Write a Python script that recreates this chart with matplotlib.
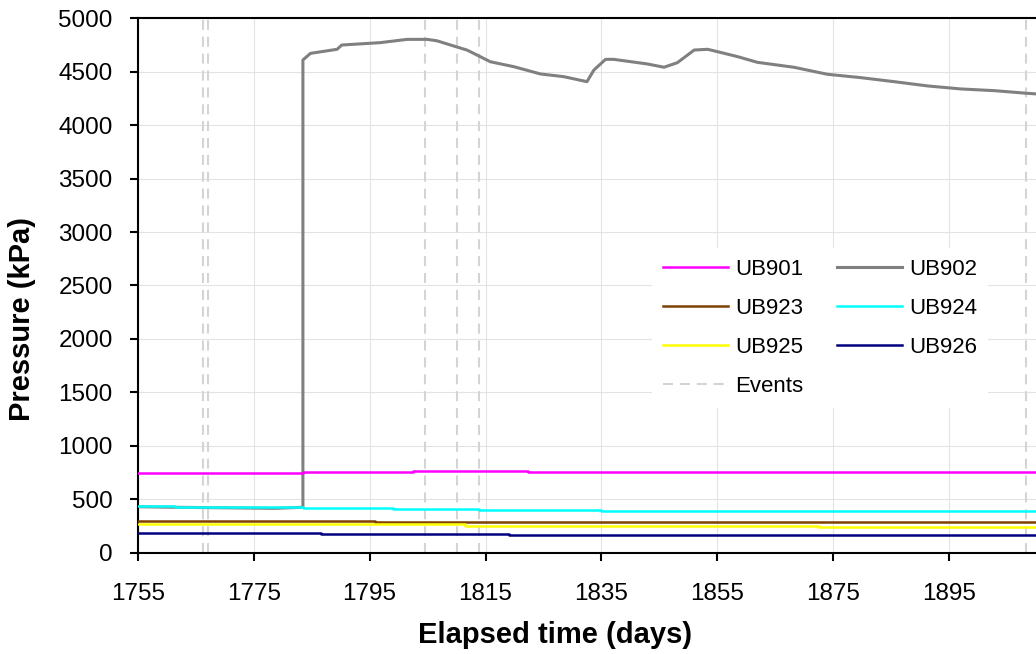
import matplotlib
matplotlib.use("Agg")
import matplotlib.pyplot as plt
from matplotlib.lines import Line2D

plt.rcParams['font.family'] = ['Liberation Sans', 'DejaVu Sans']

# ---- data ----
ub901_days = [1755, 1783.5, 1802.5, 1822.4, 1915]
ub901_vals = [743, 755, 767, 755, 755]

ub902_days = [1755, 1761.5, 1778.7, 1783.5, 1783.5, 1784.8, 1789.4, 1790.2, 1796.8,
              1801.5, 1804.9, 1806.6, 1809.5, 1811.8, 1814.1, 1815.8, 1819.9, 1824.5,
              1828.5, 1832.5, 1833.7, 1835.7, 1837.1, 1842.9, 1845.8, 1848.1, 1851.0,
              1853.3, 1855.0, 1858.5, 1861.9, 1868.2, 1874.0, 1879.7, 1885.5, 1891.3,
              1897.0, 1902.8, 1908.5, 1915]
ub902_vals = [430, 425, 415, 425, 4610, 4672, 4710, 4750, 4772,
              4803, 4803, 4790, 4741, 4703, 4641, 4594, 4547, 4479,
              4454, 4407, 4516, 4616, 4616, 4573, 4542, 4585, 4703,
              4710, 4688, 4641, 4588, 4542, 4476, 4445, 4407, 4367,
              4339, 4323, 4298, 4275]

ub923_days = [1755, 1796, 1915]
ub923_vals = [294, 290, 290]

ub924_days = [1755, 1761.5, 1783.5, 1799, 1813.8, 1835, 1915]
ub924_vals = [437, 430, 421, 409, 400, 393, 393]

ub925_days = [1755, 1811.5, 1872.4, 1915]
ub925_vals = [268, 250, 243, 243]

ub926_days = [1755, 1786.7, 1819, 1915]
ub926_vals = [181, 172, 162, 162]

event_days = [1766.3, 1767.1, 1804.5, 1810.1, 1813.9, 1908.3]

x_ticks = [1755, 1775, 1795, 1815, 1835, 1855, 1875, 1895]
y_ticks = [0, 500, 1000, 1500, 2000, 2500, 3000, 3500, 4000, 4500, 5000]

# ---- figure ----
W, H = 1036, 654
fig = plt.figure(figsize=(W / 100, H / 100), dpi=100)
left, right, top, bottom = 137.7, 1065.2, 18.3, 552.7
ax = fig.add_axes([left / W, (H - bottom) / H, (right - left) / W, (bottom - top) / H])

ax.set_xlim(1755, 1915)
ax.set_ylim(0, 5000)
ax.set_xticks(x_ticks)
ax.set_yticks(y_ticks)

ax.grid(True, color='#e3e3e3', linewidth=0.8)
ax.set_axisbelow(True)

for d in event_days:
    ax.axvline(d, color='#d4d4d4', linewidth=1.5, dashes=(4.8, 3.3), zorder=1.5)

lw = 1.8
ax.plot(ub901_days, ub901_vals, color='#ff00ff', lw=lw, drawstyle='steps-post', label='UB901', zorder=3)
ax.plot(ub902_days, ub902_vals, color='#808080', lw=2.2, label='UB902', zorder=2.5)
ax.plot(ub923_days, ub923_vals, color='#7f4000', lw=lw, drawstyle='steps-post', label='UB923', zorder=3)
ax.plot(ub924_days, ub924_vals, color='#00ffff', lw=lw, drawstyle='steps-post', label='UB924', zorder=3)
ax.plot(ub925_days, ub925_vals, color='#ffff00', lw=lw, drawstyle='steps-post', label='UB925', zorder=3)
ax.plot(ub926_days, ub926_vals, color='#000080', lw=lw, drawstyle='steps-post', label='UB926', zorder=3)

for s in ['left', 'bottom', 'top', 'right']:
    ax.spines[s].set_linewidth(1.5)
    ax.spines[s].set_color('black')

ax.tick_params(axis='both', which='major', direction='out', length=6, width=1.5,
               labelsize=17.5, colors='black')
ax.tick_params(axis='x', pad=16)
ax.tick_params(axis='y', pad=12)

ax.set_xlabel('Elapsed time (days)', fontsize=21, fontweight='bold')
ax.xaxis.set_label_coords((555 - left) / (right - left), (bottom - 635) / (bottom - top))
ax.xaxis.label.set_va('center')
ax.set_ylabel('Pressure (kPa)', fontsize=21, fontweight='bold')
ax.yaxis.set_label_coords((22.5 - left) / (right - left), (bottom - 319) / (bottom - top))
ax.yaxis.label.set_va('center')

h = {l.get_label(): l for l in ax.get_lines() if not l.get_label().startswith('_')}
ev = Line2D([], [], color='#d4d4d4', linewidth=1.5, dashes=(4.8, 3.3))
handles = [h['UB901'], h['UB923'], h['UB925'], ev, h['UB902'], h['UB924'], h['UB926']]
labels = ['UB901', 'UB923', 'UB925', 'Events', 'UB902', 'UB924', 'UB926']
leg = ax.legend(handles, labels, ncol=2, loc='upper left',
                bbox_to_anchor=(652 / W, (H - 248) / H), bbox_transform=fig.transFigure,
                fontsize=16, handlelength=2.93, handletextpad=0.32, columnspacing=1.5,
                labelspacing=0.81, borderpad=0.5, borderaxespad=0,
                frameon=True, fancybox=False, framealpha=1, edgecolor='none', facecolor='white')

fig.savefig('out.png', dpi=100)
